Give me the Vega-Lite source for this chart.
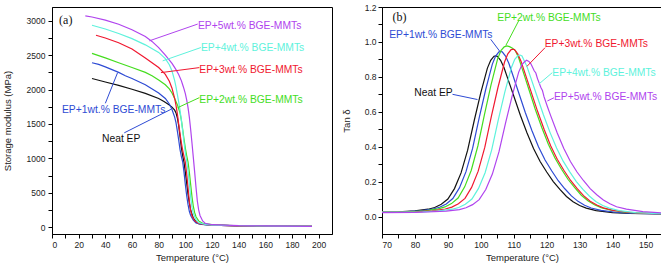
{
"$schema": "https://vega.github.io/schema/vega-lite/v6.json",
"padding": {"left": 1, "top": 2, "right": 2, "bottom": 0},
"spacing": 7,
"config": {
  "view": {"stroke": "#000", "strokeWidth": 1},
  "font": "Liberation Sans",
  "axis": {"grid": false, "domainColor": "#000", "tickColor": "#000", "tickSize": 4, "labelFontSize": 8.5, "titleFontSize": 9.5, "labelColor": "#222", "titleColor": "#222", "titleFontWeight": "normal", "labelPadding": 3}
},
"datasets": {
"mod": [
{"s":"Neat EP","T":30,"E":2160},{"s":"Neat EP","T":35,"E":2135},{"s":"Neat EP","T":40,"E":2110},{"s":"Neat EP","T":50,"E":2060},{"s":"Neat EP","T":60,"E":2005},{"s":"Neat EP","T":70,"E":1945},{"s":"Neat EP","T":80,"E":1870},{"s":"Neat EP","T":84,"E":1825},{"s":"Neat EP","T":88,"E":1775},{"s":"Neat EP","T":90,"E":1745},{"s":"Neat EP","T":92,"E":1700},{"s":"Neat EP","T":93,"E":1660},{"s":"Neat EP","T":94,"E":1590},{"s":"Neat EP","T":95,"E":1480},{"s":"Neat EP","T":96,"E":1320},{"s":"Neat EP","T":97,"E":1160},{"s":"Neat EP","T":98,"E":1040},{"s":"Neat EP","T":99,"E":940},{"s":"Neat EP","T":100,"E":800},{"s":"Neat EP","T":101,"E":640},{"s":"Neat EP","T":102,"E":480},{"s":"Neat EP","T":103,"E":350},{"s":"Neat EP","T":104,"E":250},{"s":"Neat EP","T":106,"E":130},{"s":"Neat EP","T":108,"E":75},{"s":"Neat EP","T":110,"E":50},{"s":"Neat EP","T":115,"E":35},{"s":"Neat EP","T":120,"E":28},{"s":"Neat EP","T":140,"E":18},{"s":"Neat EP","T":160,"E":14},{"s":"Neat EP","T":195,"E":10},
{"s":"1wt","T":30,"E":2390},{"s":"1wt","T":35,"E":2365},{"s":"1wt","T":40,"E":2330},{"s":"1wt","T":50,"E":2250},{"s":"1wt","T":55,"E":2200},{"s":"1wt","T":60,"E":2160},{"s":"1wt","T":70,"E":2070},{"s":"1wt","T":80,"E":1950},{"s":"1wt","T":85,"E":1870},{"s":"1wt","T":88,"E":1790},{"s":"1wt","T":90,"E":1710},{"s":"1wt","T":92,"E":1600},{"s":"1wt","T":93,"E":1520},{"s":"1wt","T":94,"E":1400},{"s":"1wt","T":95,"E":1270},{"s":"1wt","T":96,"E":1130},{"s":"1wt","T":97,"E":1030},{"s":"1wt","T":98,"E":950},{"s":"1wt","T":99,"E":800},{"s":"1wt","T":100,"E":620},{"s":"1wt","T":101,"E":460},{"s":"1wt","T":102,"E":330},{"s":"1wt","T":103,"E":230},{"s":"1wt","T":104,"E":170},{"s":"1wt","T":106,"E":100},{"s":"1wt","T":108,"E":60},{"s":"1wt","T":112,"E":38},{"s":"1wt","T":120,"E":28},{"s":"1wt","T":140,"E":18},{"s":"1wt","T":195,"E":10},
{"s":"2wt","T":30,"E":2525},{"s":"2wt","T":40,"E":2460},{"s":"2wt","T":50,"E":2390},{"s":"2wt","T":60,"E":2320},{"s":"2wt","T":70,"E":2250},{"s":"2wt","T":75,"E":2200},{"s":"2wt","T":80,"E":2140},{"s":"2wt","T":85,"E":2070},{"s":"2wt","T":88,"E":2010},{"s":"2wt","T":90,"E":1950},{"s":"2wt","T":92,"E":1870},{"s":"2wt","T":94,"E":1780},{"s":"2wt","T":96,"E":1660},{"s":"2wt","T":97,"E":1560},{"s":"2wt","T":98,"E":1420},{"s":"2wt","T":99,"E":1280},{"s":"2wt","T":100,"E":1150},{"s":"2wt","T":101,"E":1040},{"s":"2wt","T":102,"E":950},{"s":"2wt","T":103,"E":800},{"s":"2wt","T":104,"E":620},{"s":"2wt","T":105,"E":440},{"s":"2wt","T":106,"E":300},{"s":"2wt","T":107,"E":210},{"s":"2wt","T":108,"E":150},{"s":"2wt","T":110,"E":90},{"s":"2wt","T":113,"E":55},{"s":"2wt","T":120,"E":35},{"s":"2wt","T":140,"E":20},{"s":"2wt","T":195,"E":12},
{"s":"3wt","T":33,"E":2790},{"s":"3wt","T":40,"E":2750},{"s":"3wt","T":50,"E":2680},{"s":"3wt","T":60,"E":2590},{"s":"3wt","T":70,"E":2460},{"s":"3wt","T":80,"E":2320},{"s":"3wt","T":85,"E":2220},{"s":"3wt","T":88,"E":2120},{"s":"3wt","T":90,"E":2020},{"s":"3wt","T":92,"E":1870},{"s":"3wt","T":93,"E":1770},{"s":"3wt","T":94,"E":1650},{"s":"3wt","T":95,"E":1500},{"s":"3wt","T":96,"E":1360},{"s":"3wt","T":97,"E":1230},{"s":"3wt","T":98,"E":1120},{"s":"3wt","T":99,"E":1030},{"s":"3wt","T":100,"E":940},{"s":"3wt","T":101,"E":780},{"s":"3wt","T":102,"E":580},{"s":"3wt","T":103,"E":380},{"s":"3wt","T":104,"E":240},{"s":"3wt","T":105,"E":160},{"s":"3wt","T":107,"E":90},{"s":"3wt","T":110,"E":55},{"s":"3wt","T":115,"E":38},{"s":"3wt","T":120,"E":30},{"s":"3wt","T":140,"E":18},{"s":"3wt","T":195,"E":10},
{"s":"4wt","T":30,"E":2935},{"s":"4wt","T":40,"E":2880},{"s":"4wt","T":50,"E":2815},{"s":"4wt","T":60,"E":2740},{"s":"4wt","T":70,"E":2650},{"s":"4wt","T":80,"E":2540},{"s":"4wt","T":85,"E":2450},{"s":"4wt","T":88,"E":2360},{"s":"4wt","T":90,"E":2270},{"s":"4wt","T":92,"E":2130},{"s":"4wt","T":93,"E":2040},{"s":"4wt","T":94,"E":1930},{"s":"4wt","T":95,"E":1820},{"s":"4wt","T":96,"E":1700},{"s":"4wt","T":97,"E":1560},{"s":"4wt","T":98,"E":1400},{"s":"4wt","T":99,"E":1230},{"s":"4wt","T":100,"E":1080},{"s":"4wt","T":101,"E":960},{"s":"4wt","T":102,"E":820},{"s":"4wt","T":103,"E":630},{"s":"4wt","T":104,"E":440},{"s":"4wt","T":105,"E":290},{"s":"4wt","T":106,"E":200},{"s":"4wt","T":108,"E":110},{"s":"4wt","T":110,"E":65},{"s":"4wt","T":115,"E":40},{"s":"4wt","T":120,"E":30},{"s":"4wt","T":140,"E":20},{"s":"4wt","T":195,"E":12},
{"s":"5wt","T":25,"E":3070},{"s":"5wt","T":30,"E":3055},{"s":"5wt","T":40,"E":3010},{"s":"5wt","T":50,"E":2950},{"s":"5wt","T":60,"E":2870},{"s":"5wt","T":70,"E":2770},{"s":"5wt","T":75,"E":2700},{"s":"5wt","T":80,"E":2610},{"s":"5wt","T":85,"E":2500},{"s":"5wt","T":90,"E":2380},{"s":"5wt","T":93,"E":2290},{"s":"5wt","T":95,"E":2220},{"s":"5wt","T":97,"E":2130},{"s":"5wt","T":98,"E":2070},{"s":"5wt","T":99,"E":2010},{"s":"5wt","T":100,"E":1940},{"s":"5wt","T":101,"E":1850},{"s":"5wt","T":102,"E":1740},{"s":"5wt","T":103,"E":1600},{"s":"5wt","T":104,"E":1420},{"s":"5wt","T":105,"E":1220},{"s":"5wt","T":106,"E":1010},{"s":"5wt","T":107,"E":800},{"s":"5wt","T":108,"E":580},{"s":"5wt","T":109,"E":380},{"s":"5wt","T":110,"E":250},{"s":"5wt","T":111,"E":170},{"s":"5wt","T":113,"E":90},{"s":"5wt","T":115,"E":55},{"s":"5wt","T":120,"E":35},{"s":"5wt","T":140,"E":22},{"s":"5wt","T":160,"E":18},{"s":"5wt","T":195,"E":12}
],
"tan": [
{"s":"Neat EP","T":70,"v":0.025},{"s":"Neat EP","T":75,"v":0.027},{"s":"Neat EP","T":80,"v":0.032},{"s":"Neat EP","T":84,"v":0.042},{"s":"Neat EP","T":86,"v":0.052},{"s":"Neat EP","T":88,"v":0.07},{"s":"Neat EP","T":90,"v":0.1},{"s":"Neat EP","T":92,"v":0.16},{"s":"Neat EP","T":94,"v":0.25},{"s":"Neat EP","T":96,"v":0.38},{"s":"Neat EP","T":98,"v":0.55},{"s":"Neat EP","T":100,"v":0.71},{"s":"Neat EP","T":101,"v":0.78},{"s":"Neat EP","T":102,"v":0.85},{"s":"Neat EP","T":103,"v":0.895},{"s":"Neat EP","T":104,"v":0.918},{"s":"Neat EP","T":104.6,"v":0.92},{"s":"Neat EP","T":105,"v":0.918},{"s":"Neat EP","T":106,"v":0.895},{"s":"Neat EP","T":107,"v":0.855},{"s":"Neat EP","T":108,"v":0.8},{"s":"Neat EP","T":110,"v":0.69},{"s":"Neat EP","T":112,"v":0.58},{"s":"Neat EP","T":114,"v":0.48},{"s":"Neat EP","T":116,"v":0.39},{"s":"Neat EP","T":118,"v":0.315},{"s":"Neat EP","T":120,"v":0.255},{"s":"Neat EP","T":122,"v":0.2},{"s":"Neat EP","T":124,"v":0.155},{"s":"Neat EP","T":126,"v":0.115},{"s":"Neat EP","T":128,"v":0.085},{"s":"Neat EP","T":130,"v":0.063},{"s":"Neat EP","T":132,"v":0.048},{"s":"Neat EP","T":135,"v":0.034},{"s":"Neat EP","T":140,"v":0.022},{"s":"Neat EP","T":145,"v":0.018},{"s":"Neat EP","T":150,"v":0.016},{"s":"Neat EP","T":155,"v":0.015},
{"s":"1wt","T":70,"v":0.025},{"s":"1wt","T":76.5,"v":0.027},{"s":"1wt","T":81.5,"v":0.032},{"s":"1wt","T":85.5,"v":0.043},{"s":"1wt","T":87.5,"v":0.053},{"s":"1wt","T":89.5,"v":0.072},{"s":"1wt","T":91.5,"v":0.103},{"s":"1wt","T":93.5,"v":0.164},{"s":"1wt","T":95.5,"v":0.257},{"s":"1wt","T":97.5,"v":0.39},{"s":"1wt","T":99.5,"v":0.565},{"s":"1wt","T":101.5,"v":0.729},{"s":"1wt","T":102.5,"v":0.801},{"s":"1wt","T":103.5,"v":0.873},{"s":"1wt","T":104.5,"v":0.919},{"s":"1wt","T":105.5,"v":0.943},{"s":"1wt","T":106.1,"v":0.945},{"s":"1wt","T":106.5,"v":0.943},{"s":"1wt","T":107.5,"v":0.919},{"s":"1wt","T":108.5,"v":0.878},{"s":"1wt","T":109.5,"v":0.822},{"s":"1wt","T":111.5,"v":0.709},{"s":"1wt","T":113.5,"v":0.596},{"s":"1wt","T":115.5,"v":0.493},{"s":"1wt","T":117.5,"v":0.4},{"s":"1wt","T":119.5,"v":0.324},{"s":"1wt","T":121.5,"v":0.262},{"s":"1wt","T":123.5,"v":0.205},{"s":"1wt","T":125.5,"v":0.159},{"s":"1wt","T":127.5,"v":0.118},{"s":"1wt","T":129.5,"v":0.087},{"s":"1wt","T":131.5,"v":0.065},{"s":"1wt","T":133.5,"v":0.049},{"s":"1wt","T":136.5,"v":0.035},{"s":"1wt","T":141.5,"v":0.023},{"s":"1wt","T":146.5,"v":0.018},{"s":"1wt","T":151.5,"v":0.016},{"s":"1wt","T":155,"v":0.015},
{"s":"2wt","T":70,"v":0.025},{"s":"2wt","T":78.1,"v":0.027},{"s":"2wt","T":83.1,"v":0.032},{"s":"2wt","T":87.1,"v":0.044},{"s":"2wt","T":89.1,"v":0.055},{"s":"2wt","T":91.1,"v":0.074},{"s":"2wt","T":93.1,"v":0.106},{"s":"2wt","T":95.1,"v":0.17},{"s":"2wt","T":97.1,"v":0.265},{"s":"2wt","T":99.1,"v":0.404},{"s":"2wt","T":101.1,"v":0.584},{"s":"2wt","T":103.1,"v":0.754},{"s":"2wt","T":104.1,"v":0.828},{"s":"2wt","T":105.1,"v":0.903},{"s":"2wt","T":106.1,"v":0.95},{"s":"2wt","T":107.1,"v":0.972},{"s":"2wt","T":107.9,"v":0.977},{"s":"2wt","T":108.7,"v":0.973},{"s":"2wt","T":109.5,"v":0.965},{"s":"2wt","T":110.5,"v":0.95},{"s":"2wt","T":111.5,"v":0.908},{"s":"2wt","T":112.5,"v":0.85},{"s":"2wt","T":114.5,"v":0.733},{"s":"2wt","T":116.5,"v":0.616},{"s":"2wt","T":118.5,"v":0.51},{"s":"2wt","T":120.5,"v":0.414},{"s":"2wt","T":122.5,"v":0.335},{"s":"2wt","T":124.5,"v":0.271},{"s":"2wt","T":126.5,"v":0.212},{"s":"2wt","T":128.5,"v":0.165},{"s":"2wt","T":130.5,"v":0.122},{"s":"2wt","T":132.5,"v":0.09},{"s":"2wt","T":134.5,"v":0.067},{"s":"2wt","T":136.5,"v":0.051},{"s":"2wt","T":139.5,"v":0.036},{"s":"2wt","T":144.5,"v":0.023},{"s":"2wt","T":149.5,"v":0.019},{"s":"2wt","T":155,"v":0.016},
{"s":"3wt","T":70,"v":0.025},{"s":"3wt","T":80.2,"v":0.027},{"s":"3wt","T":85.2,"v":0.032},{"s":"3wt","T":89.2,"v":0.043},{"s":"3wt","T":91.2,"v":0.054},{"s":"3wt","T":93.2,"v":0.073},{"s":"3wt","T":95.2,"v":0.104},{"s":"3wt","T":97.2,"v":0.167},{"s":"3wt","T":99.2,"v":0.26},{"s":"3wt","T":101.2,"v":0.396},{"s":"3wt","T":103.2,"v":0.573},{"s":"3wt","T":105.2,"v":0.739},{"s":"3wt","T":106.2,"v":0.812},{"s":"3wt","T":107.2,"v":0.885},{"s":"3wt","T":108.2,"v":0.932},{"s":"3wt","T":109.2,"v":0.956},{"s":"3wt","T":109.8,"v":0.958},{"s":"3wt","T":110.2,"v":0.956},{"s":"3wt","T":111.2,"v":0.932},{"s":"3wt","T":112.2,"v":0.89},{"s":"3wt","T":113.2,"v":0.833},{"s":"3wt","T":115.2,"v":0.718},{"s":"3wt","T":117.2,"v":0.604},{"s":"3wt","T":119.2,"v":0.5},{"s":"3wt","T":121.2,"v":0.406},{"s":"3wt","T":123.2,"v":0.328},{"s":"3wt","T":125.2,"v":0.265},{"s":"3wt","T":127.2,"v":0.208},{"s":"3wt","T":129.2,"v":0.161},{"s":"3wt","T":131.2,"v":0.12},{"s":"3wt","T":133.2,"v":0.088},{"s":"3wt","T":135.2,"v":0.066},{"s":"3wt","T":137.2,"v":0.05},{"s":"3wt","T":140.2,"v":0.035},{"s":"3wt","T":145.2,"v":0.023},{"s":"3wt","T":150.2,"v":0.018},{"s":"3wt","T":155,"v":0.017},
{"s":"4wt","T":70,"v":0.025},{"s":"4wt","T":82.3,"v":0.027},{"s":"4wt","T":87.3,"v":0.032},{"s":"4wt","T":91.3,"v":0.042},{"s":"4wt","T":93.3,"v":0.052},{"s":"4wt","T":95.3,"v":0.07},{"s":"4wt","T":97.3,"v":0.1},{"s":"4wt","T":99.3,"v":0.161},{"s":"4wt","T":101.3,"v":0.251},{"s":"4wt","T":103.3,"v":0.382},{"s":"4wt","T":105.3,"v":0.553},{"s":"4wt","T":107.3,"v":0.714},{"s":"4wt","T":108.3,"v":0.784},{"s":"4wt","T":109.3,"v":0.854},{"s":"4wt","T":110.3,"v":0.9},{"s":"4wt","T":111.3,"v":0.922},{"s":"4wt","T":111.9,"v":0.925},{"s":"4wt","T":112.5,"v":0.92},{"s":"4wt","T":113,"v":0.9},{"s":"4wt","T":114,"v":0.86},{"s":"4wt","T":115,"v":0.804},{"s":"4wt","T":117,"v":0.693},{"s":"4wt","T":119,"v":0.583},{"s":"4wt","T":121,"v":0.482},{"s":"4wt","T":123,"v":0.392},{"s":"4wt","T":125,"v":0.317},{"s":"4wt","T":127,"v":0.256},{"s":"4wt","T":129,"v":0.2},{"s":"4wt","T":131,"v":0.156},{"s":"4wt","T":133,"v":0.116},{"s":"4wt","T":135,"v":0.085},{"s":"4wt","T":137,"v":0.063},{"s":"4wt","T":139,"v":0.048},{"s":"4wt","T":142,"v":0.034},{"s":"4wt","T":147,"v":0.022},{"s":"4wt","T":152,"v":0.018},{"s":"4wt","T":155,"v":0.017},
{"s":"5wt","T":70,"v":0.022},{"s":"5wt","T":80,"v":0.023},{"s":"5wt","T":89.5,"v":0.031},{"s":"5wt","T":93.5,"v":0.04},{"s":"5wt","T":95.5,"v":0.05},{"s":"5wt","T":97.5,"v":0.068},{"s":"5wt","T":99.5,"v":0.097},{"s":"5wt","T":101.5,"v":0.155},{"s":"5wt","T":103.5,"v":0.243},{"s":"5wt","T":105.5,"v":0.37},{"s":"5wt","T":107.5,"v":0.535},{"s":"5wt","T":109.5,"v":0.69},{"s":"5wt","T":110.5,"v":0.76},{"s":"5wt","T":111.5,"v":0.827},{"s":"5wt","T":112.5,"v":0.87},{"s":"5wt","T":113.2,"v":0.885},{"s":"5wt","T":113.9,"v":0.895},{"s":"5wt","T":114.6,"v":0.888},{"s":"5wt","T":115.2,"v":0.875},{"s":"5wt","T":116.2,"v":0.835},{"s":"5wt","T":116.7,"v":0.822},{"s":"5wt","T":117.2,"v":0.79},{"s":"5wt","T":118.2,"v":0.74},{"s":"5wt","T":118.7,"v":0.722},{"s":"5wt","T":119.2,"v":0.685},{"s":"5wt","T":120.2,"v":0.63},{"s":"5wt","T":121.2,"v":0.578},{"s":"5wt","T":123.2,"v":0.478},{"s":"5wt","T":125.2,"v":0.39},{"s":"5wt","T":127.2,"v":0.315},{"s":"5wt","T":129.2,"v":0.255},{"s":"5wt","T":131.2,"v":0.205},{"s":"5wt","T":133.2,"v":0.16},{"s":"5wt","T":135.2,"v":0.125},{"s":"5wt","T":137.2,"v":0.095},{"s":"5wt","T":139.2,"v":0.073},{"s":"5wt","T":141.2,"v":0.056},{"s":"5wt","T":144.2,"v":0.042},{"s":"5wt","T":149.2,"v":0.028},{"s":"5wt","T":155,"v":0.02}
],
"annA": [
{"s":"5wt","label":"EP+5wt.% BGE-MMTs","T":109.5,"E":2930},
{"s":"4wt","label":"EP+4wt.% BGE-MMTs","T":111.7,"E":2611},
{"s":"3wt","label":"EP+3wt.% BGE-MMTs","T":110.5,"E":2290},
{"s":"2wt","label":"EP+2wt.% BGE-MMTs","T":110.5,"E":1850},
{"s":"1wt","label":"EP+1wt.% BGE-MMTs","T":7.5,"E":1700},
{"s":"Neat EP","label":"Neat EP","T":37.5,"E":1284}
],
"leadA": [
{"s":"5wt","T":73,"E":2708,"T2":109.3,"E2":2952},
{"s":"4wt","T":83,"E":2417,"T2":111.7,"E2":2611},
{"s":"3wt","T":81.7,"E":2246,"T2":110.5,"E2":2319},
{"s":"2wt","T":94.2,"E":1736,"T2":110.5,"E2":1882},
{"s":"1wt","T":49.2,"E":2246,"T2":40,"E2":1800},
{"s":"1wt","T":54.2,"E":1371,"T2":89.2,"E2":1712}
],
"annB": [
{"s":"2wt","label":"EP+2wt.% BGE-MMTs","T":105,"v":1.139},
{"s":"1wt","label":"EP+1wt.% BGE-MMTs","T":72.2,"v":1.04},
{"s":"3wt","label":"EP+3wt.% BGE-MMTs","T":119.4,"v":0.986},
{"s":"4wt","label":"EP+4wt.% BGE-MMTs","T":121.7,"v":0.82},
{"s":"5wt","label":"EP+5wt.% BGE-MMTs","T":122.2,"v":0.685},
{"s":"Neat EP","label":"Neat EP","T":79.8,"v":0.71}
],
"leadB": [
{"s":"2wt","T":111.6,"v":1.125,"T2":107.6,"v2":0.98},
{"s":"1wt","T":103,"v":1.015,"T2":105.8,"v2":0.945},
{"s":"3wt","T":119.5,"v":0.967,"T2":114,"v2":0.86},
{"s":"4wt","T":121.7,"v":0.824,"T2":117.7,"v2":0.76},
{"s":"5wt","T":122.2,"v":0.68,"T2":120.2,"v2":0.662},
{"s":"1wt","T":91.4,"v":0.7,"T2":99,"v2":0.67}
],
"tagA": [{"label":"(a)","T":5.3,"E":3010}],
"tagB": [{"label":"(b)","T":73.2,"v":1.14}]
},
"hconcat": [
{
"width": 280, "height": 227,
"encoding": {
  "x": {"field":"T","type":"quantitative","scale":{"domain":[0,210],"nice":false,"zero":false},
        "axis":{"title":"Temperature (°C)","values":[0,10,20,30,40,50,60,70,80,90,100,110,120,130,140,150,160,170,180,190,200],"labelExpr":"datum.value % 20 === 0 ? datum.label : ''","titlePadding":4,"labelPadding":2}},
  "y": {"field":"E","type":"quantitative","scale":{"domain":[-100,3200],"nice":false,"zero":false},
        "axis":{"title":"Storage modulus (MPa)","values":[0,250,500,750,1000,1250,1500,1750,2000,2250,2500,2750,3000],"labelExpr":"datum.value % 500 === 0 ? datum.label : ''","format":"d","titlePadding":14}}
},
"layer": [
  {"data":{"name":"mod"},"mark":{"type":"line","strokeWidth":1.2},"encoding":{"order":{"field":"T"},
    "color": {"field":"s","type":"nominal","legend":null,"scale":{"domain":["Neat EP","1wt","2wt","3wt","4wt","5wt"],"range":["#111111","#2e4bd4","#44dd1e","#f01830","#5ef2dc","#b044ee"]}}}},
  {"data":{"name":"leadA"},"mark":{"type":"rule","strokeWidth":1},"encoding":{"x2":{"field":"T2"},"y2":{"field":"E2"},
    "color": {"field":"s","type":"nominal","legend":null}}},
  {"data":{"name":"annA"},"mark":{"type":"text","align":"left","baseline":"middle","fontSize":10.3},"encoding":{"text":{"field":"label"},
    "color": {"field":"s","type":"nominal","legend":null}}},
  {"data":{"name":"tagA"},"mark":{"type":"text","align":"left","baseline":"middle","fontSize":12,"font":"Liberation Serif","color":"#111"},"encoding":{"text":{"field":"label"}}}
]
},
{
"width": 280, "height": 227,
"encoding": {
  "x": {"field":"T","type":"quantitative","scale":{"domain":[70,155],"nice":false,"zero":false},
        "axis":{"title":"Temperature (°C)","values":[70,75,80,85,90,95,100,105,110,115,120,125,130,135,140,145,150,155],"labelExpr":"datum.value % 10 === 0 ? datum.label : ''","titlePadding":4,"labelPadding":2}},
  "y": {"field":"v","type":"quantitative","scale":{"domain":[-0.1,1.2],"nice":false,"zero":false},
        "axis":{"title":"Tan δ","values":[0,0.1,0.2,0.3,0.4,0.5,0.6,0.7,0.8,0.9,1.0,1.1,1.2],"format":".1f","labelExpr":"round(datum.value*10) % 2 === 0 ? datum.label : ''","titlePadding":13,"labelPadding":2}}
},
"layer": [
  {"data":{"name":"tan"},"mark":{"type":"line","strokeWidth":1.2},"encoding":{"order":{"field":"T"},
    "color": {"field":"s","type":"nominal","legend":null,"scale":{"domain":["Neat EP","1wt","2wt","3wt","4wt","5wt"],"range":["#111111","#4462e0","#44dd1e","#f01830","#5ef2dc","#b044ee"]}}}},
  {"data":{"name":"leadB"},"mark":{"type":"rule","strokeWidth":1},"encoding":{"x2":{"field":"T2"},"y2":{"field":"v2"},
    "color": {"field":"s","type":"nominal","legend":null}}},
  {"data":{"name":"annB"},"mark":{"type":"text","align":"left","baseline":"middle","fontSize":10.3},"encoding":{"text":{"field":"label"},
    "color": {"field":"s","type":"nominal","legend":null}}},
  {"data":{"name":"tagB"},"mark":{"type":"text","align":"left","baseline":"middle","fontSize":12,"font":"Liberation Serif","color":"#111"},"encoding":{"text":{"field":"label"}}}
]
}
]
}
